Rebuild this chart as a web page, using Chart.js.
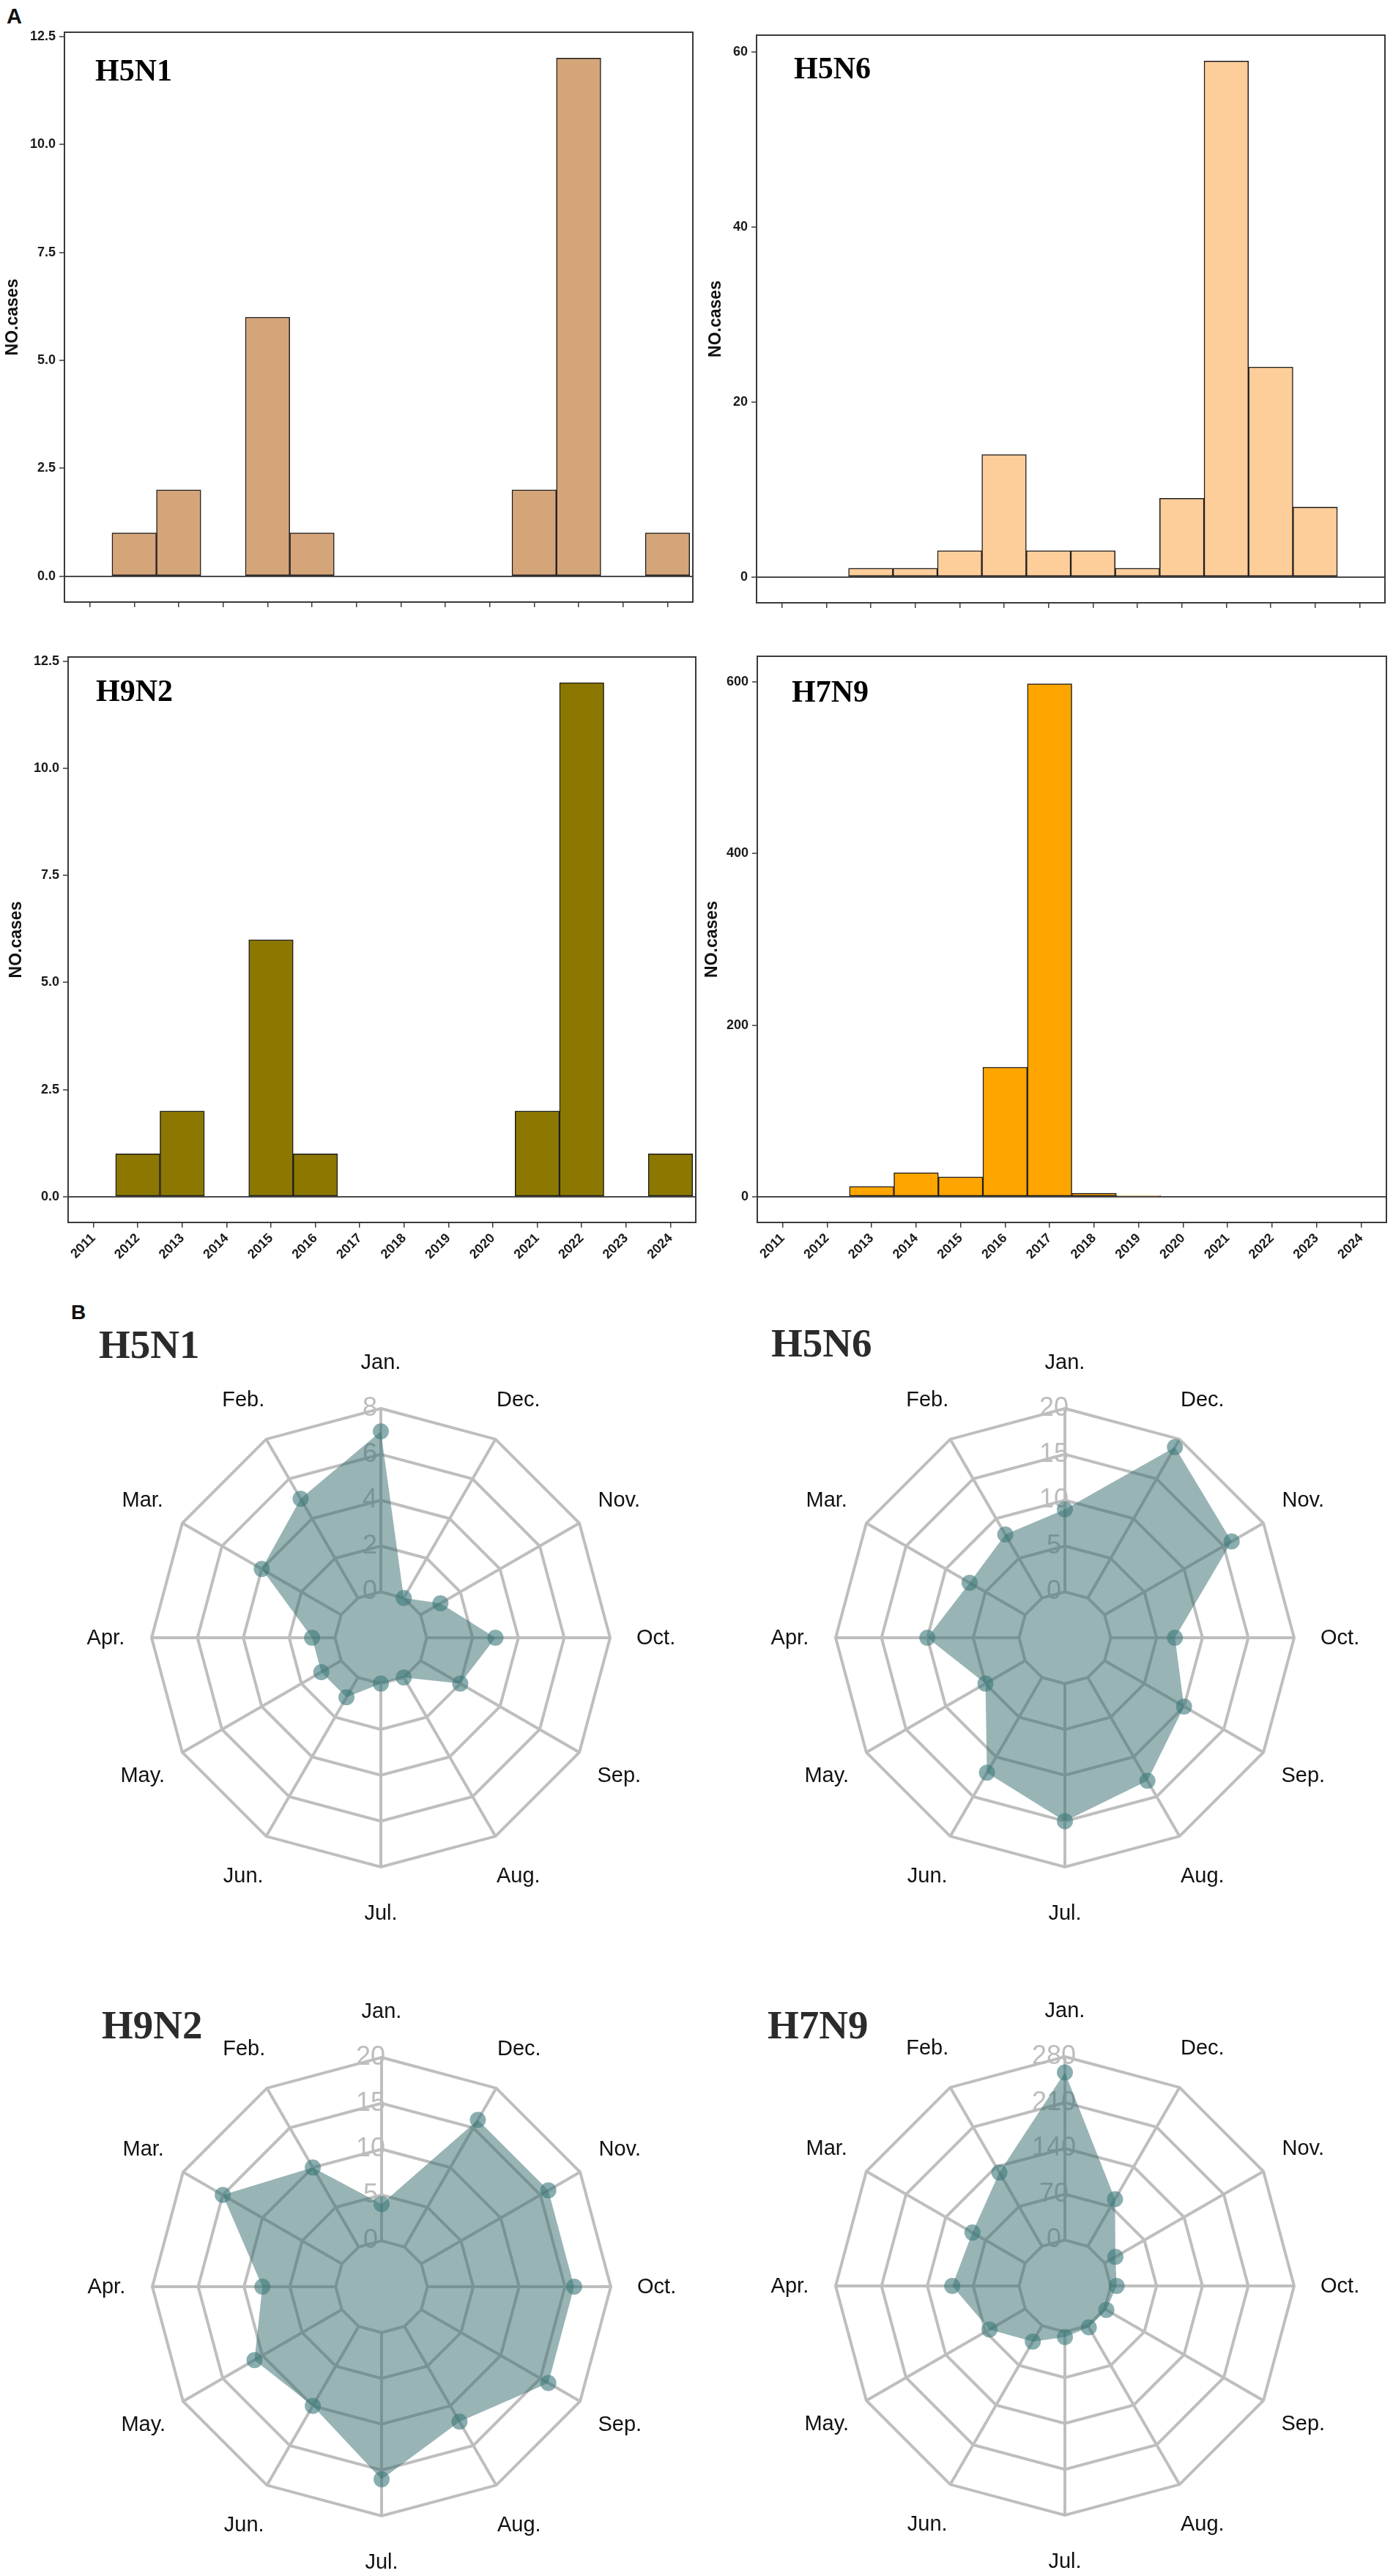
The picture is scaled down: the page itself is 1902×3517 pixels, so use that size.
<!DOCTYPE html>
<html>
<head>
<meta charset="utf-8">
<script src="https://cdn.jsdelivr.net/npm/chart.js@4.4.1/dist/chart.umd.min.js"></script>
<style>
  html, body { margin: 0; padding: 0; background: #fff; }
  body { width: 1902px; height: 3517px; position: relative; overflow: hidden;
         font-family: "Liberation Sans", Arial, sans-serif; }
  canvas { position: absolute; }
  .t { position: absolute; line-height: 1; white-space: nowrap; }
  .panel { font-weight: bold; color: #111; }
  .sub { font-family: "Liberation Serif", "Times New Roman", serif; font-weight: bold; }
</style>
</head>
<body>
<div class="t panel" style="left:9px;top:8px;font-size:29px">A</div>
<div class="t panel" style="left:97px;top:1778px;font-size:28px">B</div>

<script>
// ---- data ----
const years = [2011, 2012, 2013, 2014, 2015, 2016, 2017, 2018, 2019, 2020, 2021, 2022, 2023, 2024];
const h5n1Cases = [0, 1, 2, 0, 6, 1, 0, 0, 0, 0, 2, 12, 0, 1];
const h5n6Cases = [0, 0, 1, 1, 3, 14, 3, 3, 1, 9, 59, 24, 8, 0];
const h9n2Cases = [0, 1, 2, 0, 6, 1, 0, 0, 0, 0, 2, 12, 0, 1];
const h7n9Cases = [0, 0, 12, 28, 23, 151, 598, 4, 1, 0, 0, 0, 0, 0];

// months clockwise from the top, as the radar draws them
const months = ['Jan.', 'Dec.', 'Nov.', 'Oct.', 'Sep.', 'Aug.', 'Jul.', 'Jun.', 'May.', 'Apr.', 'Mar.', 'Feb.'];
const h5n1Monthly = [7, 0, 1, 3, 2, 0, 0, 1, 1, 1, 4, 5];
const h5n6Monthly = [9, 19, 16, 7, 10, 13, 15, 12, 5, 10, 7, 8];
const h9n2Monthly = [4, 16, 16, 16, 16, 12, 16, 10, 11, 8, 15, 10];
const h7n9Monthly = [256, 83, 19, 9, 3, 3, 8, 28, 63, 102, 93, 130];
const radarMax = { H5N1: 8, H5N6: 20, H9N2: 20, H7N9: 280 };

Chart.defaults.font.family = '"Liberation Sans", Arial, sans-serif';

const sansBold = { size: 18, weight: 'bold' };
const gridGray = '#bebebe';

// box round the plotting area, like ggplot's panel.border
const framePlugin = {
  id: 'frame',
  afterDraw(chart) {
    const { ctx, chartArea: a } = chart;
    ctx.save();
    ctx.strokeStyle = '#3a3a3a';
    ctx.lineWidth = 2;
    ctx.strokeRect(a.left, a.top, a.right - a.left, a.bottom - a.top);
    ctx.restore();
  }
};

function addText(txt, cls, left, top, size, color) {
  const d = document.createElement('div');
  d.className = 't ' + cls;
  d.textContent = txt;
  d.style.left = left + 'px';
  d.style.top = top + 'px';
  d.style.fontSize = size + 'px';
  if (color) d.style.color = color;
  document.body.appendChild(d);
}

function makeCanvas(left, top, w, h) {
  const c = document.createElement('canvas');
  c.width = w; c.height = h;
  c.style.left = left + 'px';
  c.style.top = top + 'px';
  document.body.appendChild(c);
  return c;
}

function barChart(p) {
  const cv = makeCanvas(p.left, p.top, p.w, p.h);
  return new Chart(cv, {
    type: 'bar',
    data: {
      datasets: [{
        data: years.map((y, i) => ({ x: y, y: p.values[i] })),
        backgroundColor: p.color,
        borderColor: '#1e1e1e',
        borderWidth: 1.5,
        borderSkipped: false,
        barPercentage: 1,
        categoryPercentage: 1
      }]
    },
    options: {
      responsive: false,
      animation: false,
      devicePixelRatio: 1,
      layout: { padding: { top: p.padTop, right: p.padRight, left: 0, bottom: 0 } },
      plugins: { legend: { display: false }, tooltip: { enabled: false } },
      scales: {
        x: {
          type: 'linear', min: 2010.43, max: 2024.57, offset: false,
          grid: { offset: false, drawOnChartArea: false, drawTicks: true, tickLength: 7,
                  color: '#3a3a3a', lineWidth: 1.5 },
          border: { display: false },
          ticks: {
            stepSize: 1, autoSkip: false, maxTicksLimit: 30, includeBounds: false,
            maxRotation: 45, minRotation: 45, padding: 4,
            color: p.showYears ? '#1a1a1a' : 'rgba(0,0,0,0)',
            font: sansBold,
            callback: v => String(v)
          },
          afterFit: s => { s.height = p.axisH; }
        },
        y: {
          min: p.yMin, max: p.yMax,
          grid: {
            color: c => (c.tick && c.tick.value === 0) ? '#4a4a4a' : 'rgba(0,0,0,0)',
            lineWidth: 2, tickLength: 7, tickColor: '#3a3a3a', tickWidth: 1.5
          },
          border: { display: false },
          ticks: {
            stepSize: p.yStep, includeBounds: false, padding: 5,
            color: '#1a1a1a', font: sansBold,
            callback: p.yFmt
          },
          title: { display: true, text: 'NO.cases', color: '#111',
                   font: { size: 23, weight: 'bold' }, padding: { top: 4, bottom: 4 } },
          afterFit: s => { s.width = p.axisW; }
        }
      }
    },
    plugins: [framePlugin]
  });
}

// spokes start at the "0" ring and month names sit at 1.2 x radius (fmsb style)
const radarDecor = {
  id: 'radarDecor',
  beforeDraw(chart) {
    const r = chart.scales.r, ctx = chart.ctx;
    ctx.save();
    ctx.strokeStyle = gridGray;
    ctx.lineWidth = 4;
    chart.data.labels.forEach((_, i) => {
      const a = r.getPointPositionForValue(i, 0);
      const b = r.getPointPositionForValue(i, r.max);
      ctx.beginPath();
      ctx.moveTo(a.x, a.y);
      ctx.lineTo(b.x, b.y);
      ctx.stroke();
    });
    ctx.restore();
  },
  afterDraw(chart) {
    const r = chart.scales.r, ctx = chart.ctx;
    ctx.save();
    ctx.font = '29px "Liberation Sans", Arial, sans-serif';
    ctx.fillStyle = '#111';
    ctx.textAlign = 'center';
    ctx.textBaseline = 'middle';
    chart.data.labels.forEach((lab, i) => {
      const pt = r.getPointPosition(i, r.drawingArea * 1.2);
      ctx.fillText(lab, pt.x, pt.y + 1);
    });
    ctx.restore();
  }
};

function radarChart(p) {
  const size = 882;            // 110 px padding round a 662 px chart area -> radius 313
  const cv = makeCanvas(p.cx - 441, p.cy - 441, size, size);
  const max = p.max;
  return new Chart(cv, {
    type: 'radar',
    data: {
      labels: months,
      datasets: [{
        data: p.values,
        fill: 'start',
        backgroundColor: 'rgba(51,105,107,0.5)',
        borderWidth: 0,
        borderColor: 'rgba(0,0,0,0)',
        pointRadius: 11,
        pointBorderWidth: 0,
        pointBackgroundColor: 'rgba(60,120,122,0.6)'
      }]
    },
    options: {
      responsive: false,
      animation: false,
      devicePixelRatio: 1,
      layout: { padding: 110 },
      plugins: { legend: { display: false }, tooltip: { enabled: false } },
      scales: {
        r: {
          min: -max / 4, max: max,
          angleLines: { display: false },
          grid: { color: gridGray, lineWidth: 4 },
          pointLabels: { display: false },
          ticks: {
            stepSize: max / 4,
            color: '#bdbdbd',
            font: { size: 36 },
            showLabelBackdrop: false,
            backdropPadding: 0,
            callback: v => v < 0 ? '' : v + '   '
          }
        }
      }
    },
    plugins: [radarDecor]
  });
}

// ---- panel A: yearly bars ----
const oneDec = v => v.toFixed(1);
const plain = v => String(v);

barChart({ left: 0, top: 0, w: 955, h: 860, padTop: 44, padRight: 9, axisW: 88, axisH: 38,
  values: h5n1Cases, color: '#D5A57A', yMin: -0.6, yMax: 12.6, yStep: 2.5, yFmt: oneDec, showYears: false });
barChart({ left: 960, top: 0, w: 942, h: 860, padTop: 48, padRight: 11, axisW: 73, axisH: 37,
  values: h5n6Cases, color: '#FDCD9A', yMin: -2.95, yMax: 61.95, yStep: 20, yFmt: plain, showYears: false });
barChart({ left: 5, top: 860, w: 950, h: 900, padTop: 37, padRight: 5, axisW: 88, axisH: 91,
  values: h9n2Cases, color: '#8C7800', yMin: -0.6, yMax: 12.6, yStep: 2.5, yFmt: oneDec, showYears: true });
barChart({ left: 955, top: 860, w: 947, h: 900, padTop: 36, padRight: 9, axisW: 79, axisH: 91,
  values: h7n9Cases, color: '#FFA500', yMin: -30, yMax: 630, yStep: 200, yFmt: plain, showYears: true });

addText('H5N1', 'sub', 130, 75, 42, '#000');
addText('H5N6', 'sub', 1084, 72, 42, '#000');
addText('H9N2', 'sub', 131, 922, 42, '#000');
addText('H7N9', 'sub', 1081, 923, 42, '#000');

// ---- panel B: monthly radars ----
radarChart({ cx: 520, cy: 2236, values: h5n1Monthly, max: radarMax.H5N1 });
radarChart({ cx: 1454, cy: 2236, values: h5n6Monthly, max: radarMax.H5N6 });
radarChart({ cx: 521, cy: 3122, values: h9n2Monthly, max: radarMax.H9N2 });
radarChart({ cx: 1454, cy: 3121, values: h7n9Monthly, max: radarMax.H7N9 });

addText('H5N1', 'sub', 135, 1808, 55, '#2b2b2b');
addText('H5N6', 'sub', 1053, 1806, 55, '#2b2b2b');
addText('H9N2', 'sub', 139, 2737, 55, '#2b2b2b');
addText('H7N9', 'sub', 1048, 2737, 55, '#2b2b2b');
</script>
</body>
</html>
